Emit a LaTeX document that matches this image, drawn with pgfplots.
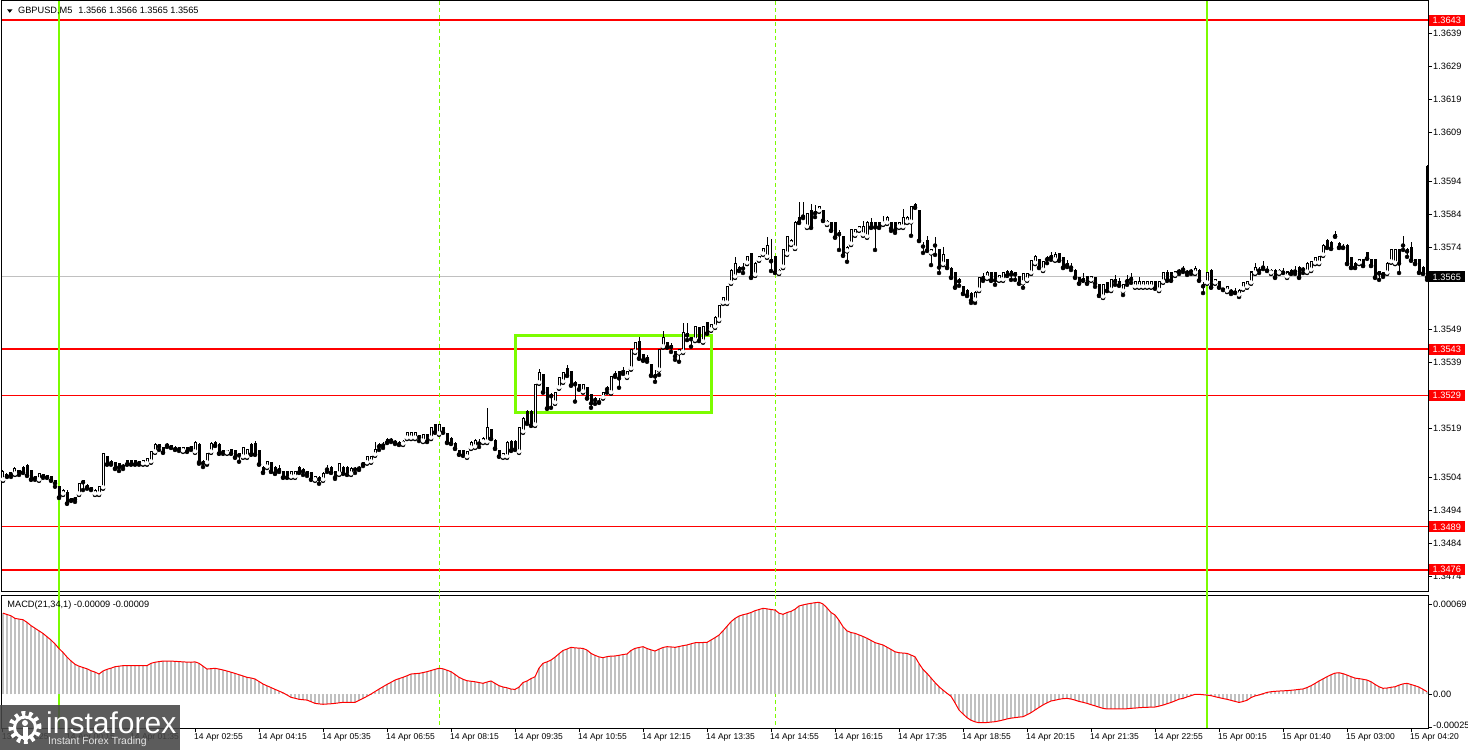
\documentclass[border=0pt]{standalone}
\usepackage{fontspec}
\setmainfont{Liberation Sans}
\newfontfamily\dejavu{DejaVu Sans}
\usepackage{pgfplots}
\usepackage{pgfplotstable}
\pgfplotsset{compat=1.18}
\definecolor{lgreen}{RGB}{124,252,0}
\definecolor{hgray}{RGB}{192,192,192}
\definecolor{logogray}{RGB}{70,70,70}

\pgfplotstableread{
O H L C
1.35033 1.35063 1.35030 1.35057
1.35045 1.35054 1.35042 1.35048
1.35054 1.35057 1.35042 1.35051
1.35051 1.35072 1.35048 1.35069
1.35060 1.35063 1.35048 1.35057
1.35072 1.35075 1.35054 1.35057
1.35078 1.35082 1.35045 1.35048
1.35060 1.35063 1.35033 1.35036
1.35042 1.35045 1.35033 1.35039
1.35033 1.35054 1.35030 1.35051
1.35048 1.35051 1.35039 1.35045
1.35045 1.35048 1.35039 1.35042
1.35042 1.35045 1.35030 1.35033
1.35030 1.35033 1.35012 1.35024
1.35012 1.35015 1.34978 1.34981
1.34990 1.35006 1.34987 1.35002
1.34996 1.35002 1.34960 1.34963
1.34975 1.34978 1.34969 1.34972
1.34978 1.34981 1.34966 1.34975
1.34990 1.35024 1.34987 1.35021
1.35030 1.35033 1.35002 1.35027
1.35015 1.35021 1.35006 1.35012
1.35009 1.35012 1.35002 1.35006
1.34990 1.35006 1.34987 1.35002
1.34990 1.35015 1.34987 1.35012
1.35009 1.35115 1.35006 1.35112
1.35103 1.35106 1.35079 1.35082
1.35088 1.35094 1.35079 1.35085
1.35085 1.35088 1.35066 1.35069
1.35082 1.35085 1.35060 1.35072
1.35078 1.35082 1.35066 1.35075
1.35091 1.35094 1.35079 1.35082
1.35091 1.35094 1.35079 1.35082
1.35091 1.35094 1.35079 1.35082
1.35088 1.35091 1.35079 1.35085
1.35082 1.35094 1.35079 1.35091
1.35082 1.35100 1.35079 1.35097
1.35088 1.35121 1.35085 1.35118
1.35118 1.35145 1.35115 1.35142
1.35139 1.35142 1.35124 1.35136
1.35130 1.35133 1.35115 1.35118
1.35142 1.35145 1.35133 1.35139
1.35136 1.35139 1.35130 1.35133
1.35130 1.35136 1.35124 1.35127
1.35130 1.35133 1.35121 1.35127
1.35121 1.35133 1.35118 1.35130
1.35130 1.35133 1.35118 1.35121
1.35133 1.35136 1.35124 1.35130
1.35118 1.35151 1.35115 1.35148
1.35142 1.35145 1.35082 1.35088
1.35088 1.35094 1.35072 1.35085
1.35085 1.35115 1.35079 1.35112
1.35118 1.35148 1.35115 1.35145
1.35148 1.35151 1.35136 1.35139
1.35142 1.35145 1.35112 1.35115
1.35121 1.35124 1.35112 1.35118
1.35115 1.35124 1.35112 1.35121
1.35124 1.35127 1.35112 1.35115
1.35121 1.35124 1.35100 1.35103
1.35112 1.35115 1.35088 1.35109
1.35103 1.35133 1.35100 1.35130
1.35103 1.35127 1.35100 1.35124
1.35142 1.35145 1.35109 1.35112
1.35145 1.35151 1.35109 1.35112
1.35121 1.35124 1.35079 1.35082
1.35072 1.35075 1.35054 1.35057
1.35072 1.35091 1.35069 1.35088
1.35085 1.35088 1.35057 1.35060
1.35072 1.35075 1.35051 1.35054
1.35066 1.35078 1.35057 1.35063
1.35057 1.35060 1.35039 1.35042
1.35057 1.35060 1.35039 1.35042
1.35042 1.35060 1.35039 1.35057
1.35042 1.35060 1.35039 1.35057
1.35072 1.35075 1.35054 1.35057
1.35063 1.35069 1.35048 1.35060
1.35057 1.35060 1.35045 1.35054
1.35054 1.35057 1.35033 1.35036
1.35033 1.35045 1.35030 1.35042
1.35039 1.35045 1.35021 1.35036
1.35033 1.35057 1.35030 1.35051
1.35066 1.35078 1.35057 1.35069
1.35072 1.35075 1.35054 1.35057
1.35057 1.35060 1.35036 1.35042
1.35051 1.35085 1.35048 1.35082
1.35072 1.35075 1.35051 1.35054
1.35072 1.35075 1.35048 1.35051
1.35051 1.35072 1.35048 1.35069
1.35069 1.35072 1.35054 1.35066
1.35072 1.35075 1.35063 1.35069
1.35085 1.35088 1.35075 1.35082
1.35085 1.35106 1.35082 1.35103
1.35088 1.35106 1.35085 1.35103
1.35109 1.35148 1.35106 1.35124
1.35139 1.35145 1.35124 1.35136
1.35142 1.35148 1.35130 1.35139
1.35157 1.35160 1.35145 1.35148
1.35157 1.35160 1.35148 1.35154
1.35151 1.35154 1.35142 1.35148
1.35148 1.35151 1.35139 1.35142
1.35142 1.35154 1.35139 1.35151
1.35160 1.35179 1.35157 1.35176
1.35160 1.35179 1.35157 1.35176
1.35160 1.35179 1.35157 1.35176
1.35167 1.35170 1.35151 1.35164
1.35151 1.35173 1.35148 1.35170
1.35170 1.35173 1.35148 1.35151
1.35160 1.35194 1.35157 1.35191
1.35200 1.35203 1.35176 1.35179
1.35173 1.35203 1.35170 1.35200
1.35191 1.35194 1.35176 1.35179
1.35173 1.35176 1.35145 1.35148
1.35160 1.35164 1.35142 1.35145
1.35145 1.35148 1.35127 1.35130
1.35121 1.35124 1.35109 1.35112
1.35121 1.35124 1.35106 1.35109
1.35103 1.35121 1.35100 1.35118
1.35130 1.35151 1.35127 1.35148
1.35133 1.35157 1.35130 1.35154
1.35148 1.35157 1.35133 1.35145
1.35148 1.35164 1.35145 1.35160
1.35148 1.35252 1.35145 1.35191
1.35185 1.35188 1.35157 1.35160
1.35154 1.35157 1.35127 1.35130
1.35121 1.35124 1.35103 1.35106
1.35103 1.35115 1.35100 1.35112
1.35103 1.35151 1.35100 1.35148
1.35151 1.35154 1.35121 1.35124
1.35151 1.35154 1.35124 1.35127
1.35118 1.35194 1.35115 1.35191
1.35179 1.35224 1.35176 1.35221
1.35240 1.35246 1.35203 1.35209
1.35240 1.35246 1.35197 1.35200
1.35200 1.35325 1.35197 1.35322
1.35328 1.35371 1.35325 1.35358
1.35352 1.35355 1.35298 1.35301
1.35313 1.35316 1.35249 1.35252
1.35292 1.35298 1.35252 1.35289
1.35267 1.35301 1.35264 1.35298
1.35313 1.35346 1.35310 1.35343
1.35331 1.35362 1.35328 1.35358
1.35371 1.35383 1.35349 1.35352
1.35362 1.35365 1.35319 1.35322
1.35328 1.35334 1.35271 1.35325
1.35322 1.35325 1.35307 1.35310
1.35301 1.35325 1.35298 1.35322
1.35313 1.35316 1.35280 1.35283
1.35292 1.35295 1.35252 1.35267
1.35280 1.35286 1.35264 1.35277
1.35271 1.35283 1.35267 1.35270
1.35283 1.35301 1.35280 1.35298
1.35310 1.35319 1.35298 1.35313
1.35298 1.35349 1.35295 1.35346
1.35352 1.35365 1.35346 1.35355
1.35362 1.35365 1.35313 1.35343
1.35362 1.35377 1.35355 1.35365
1.35346 1.35365 1.35343 1.35362
1.35371 1.35431 1.35368 1.35428
1.35422 1.35453 1.35419 1.35450
1.35453 1.35468 1.35401 1.35404
1.35413 1.35416 1.35395 1.35398
1.35404 1.35413 1.35392 1.35401
1.35383 1.35386 1.35349 1.35352
1.35352 1.35367 1.35331 1.35349
1.35367 1.35431 1.35352 1.35428
1.35438 1.35486 1.35435 1.35465
1.35450 1.35453 1.35435 1.35438
1.35441 1.35450 1.35422 1.35438
1.35422 1.35425 1.35398 1.35410
1.35419 1.35431 1.35392 1.35428
1.35422 1.35510 1.35419 1.35480
1.35474 1.35510 1.35458 1.35477
1.35465 1.35468 1.35438 1.35462
1.35458 1.35501 1.35455 1.35498
1.35495 1.35498 1.35455 1.35458
1.35453 1.35501 1.35450 1.35498
1.35510 1.35513 1.35477 1.35480
1.35489 1.35507 1.35486 1.35504
1.35498 1.35531 1.35495 1.35528
1.35519 1.35565 1.35516 1.35562
1.35571 1.35589 1.35568 1.35586
1.35571 1.35623 1.35568 1.35620
1.35632 1.35674 1.35629 1.35671
1.35650 1.35711 1.35647 1.35692
1.35680 1.35683 1.35668 1.35671
1.35677 1.35692 1.35662 1.35680
1.35692 1.35714 1.35689 1.35711
1.35720 1.35723 1.35647 1.35650
1.35656 1.35695 1.35653 1.35692
1.35702 1.35714 1.35699 1.35711
1.35720 1.35738 1.35717 1.35735
1.35711 1.35771 1.35708 1.35747
1.35702 1.35765 1.35668 1.35699
1.35711 1.35714 1.35662 1.35665
1.35662 1.35674 1.35659 1.35671
1.35680 1.35735 1.35677 1.35732
1.35720 1.35775 1.35717 1.35772
1.35750 1.35765 1.35747 1.35762
1.35738 1.35820 1.35735 1.35817
1.35832 1.35878 1.35814 1.35817
1.35835 1.35878 1.35829 1.35838
1.35802 1.35845 1.35799 1.35842
1.35851 1.35872 1.35799 1.35802
1.35845 1.35869 1.35832 1.35848
1.35851 1.35866 1.35848 1.35863
1.35851 1.35854 1.35820 1.35823
1.35811 1.35823 1.35808 1.35820
1.35814 1.35817 1.35790 1.35793
1.35814 1.35817 1.35769 1.35772
1.35784 1.35793 1.35732 1.35781
1.35772 1.35775 1.35714 1.35717
1.35729 1.35744 1.35696 1.35741
1.35750 1.35796 1.35747 1.35793
1.35778 1.35796 1.35775 1.35793
1.35793 1.35805 1.35790 1.35802
1.35778 1.35820 1.35775 1.35802
1.35772 1.35820 1.35769 1.35817
1.35814 1.35829 1.35799 1.35802
1.35814 1.35817 1.35732 1.35802
1.35814 1.35817 1.35799 1.35802
1.35811 1.35835 1.35808 1.35817
1.35814 1.35835 1.35811 1.35832
1.35814 1.35817 1.35790 1.35799
1.35814 1.35817 1.35784 1.35793
1.35802 1.35817 1.35799 1.35814
1.35802 1.35856 1.35799 1.35832
1.35817 1.35835 1.35814 1.35832
1.35817 1.35866 1.35775 1.35863
1.35869 1.35875 1.35860 1.35863
1.35851 1.35854 1.35759 1.35762
1.35747 1.35756 1.35723 1.35744
1.35762 1.35775 1.35729 1.35732
1.35723 1.35735 1.35686 1.35732
1.35750 1.35772 1.35717 1.35747
1.35732 1.35735 1.35662 1.35680
1.35689 1.35741 1.35686 1.35717
1.35702 1.35705 1.35677 1.35680
1.35677 1.35680 1.35647 1.35650
1.35662 1.35665 1.35617 1.35620
1.35641 1.35647 1.35623 1.35638
1.35620 1.35623 1.35598 1.35601
1.35610 1.35613 1.35592 1.35595
1.35601 1.35604 1.35571 1.35580
1.35580 1.35607 1.35571 1.35604
1.35610 1.35650 1.35607 1.35647
1.35647 1.35662 1.35638 1.35650
1.35647 1.35668 1.35644 1.35662
1.35662 1.35665 1.35638 1.35641
1.35662 1.35665 1.35626 1.35641
1.35641 1.35656 1.35638 1.35653
1.35641 1.35665 1.35638 1.35662
1.35668 1.35671 1.35653 1.35656
1.35668 1.35671 1.35641 1.35659
1.35662 1.35665 1.35641 1.35659
1.35650 1.35653 1.35629 1.35632
1.35632 1.35662 1.35617 1.35659
1.35641 1.35662 1.35638 1.35659
1.35662 1.35702 1.35659 1.35699
1.35692 1.35717 1.35689 1.35711
1.35702 1.35705 1.35677 1.35680
1.35671 1.35699 1.35668 1.35696
1.35705 1.35714 1.35692 1.35708
1.35711 1.35726 1.35702 1.35714
1.35702 1.35726 1.35699 1.35717
1.35720 1.35723 1.35699 1.35702
1.35708 1.35711 1.35677 1.35680
1.35690 1.35702 1.35680 1.35687
1.35683 1.35692 1.35671 1.35680
1.35671 1.35674 1.35647 1.35650
1.35647 1.35650 1.35629 1.35632
1.35644 1.35662 1.35638 1.35641
1.35650 1.35653 1.35629 1.35632
1.35641 1.35653 1.35638 1.35650
1.35647 1.35650 1.35620 1.35632
1.35626 1.35629 1.35592 1.35595
1.35589 1.35629 1.35586 1.35626
1.35632 1.35635 1.35607 1.35610
1.35610 1.35644 1.35607 1.35641
1.35641 1.35656 1.35626 1.35638
1.35635 1.35647 1.35623 1.35626
1.35607 1.35629 1.35595 1.35626
1.35638 1.35656 1.35626 1.35641
1.35647 1.35662 1.35632 1.35644
1.35620 1.35638 1.35617 1.35635
1.35620 1.35650 1.35617 1.35635
1.35620 1.35638 1.35617 1.35635
1.35620 1.35638 1.35617 1.35635
1.35620 1.35638 1.35617 1.35635
1.35635 1.35638 1.35614 1.35617
1.35610 1.35638 1.35607 1.35635
1.35635 1.35665 1.35632 1.35662
1.35662 1.35671 1.35638 1.35641
1.35662 1.35665 1.35638 1.35641
1.35656 1.35668 1.35653 1.35665
1.35671 1.35674 1.35659 1.35668
1.35677 1.35683 1.35665 1.35674
1.35665 1.35671 1.35656 1.35668
1.35671 1.35674 1.35659 1.35668
1.35662 1.35683 1.35659 1.35677
1.35671 1.35674 1.35638 1.35641
1.35623 1.35635 1.35601 1.35626
1.35632 1.35665 1.35629 1.35662
1.35671 1.35674 1.35617 1.35620
1.35632 1.35644 1.35629 1.35641
1.35635 1.35638 1.35617 1.35620
1.35614 1.35617 1.35610 1.35613
1.35607 1.35623 1.35604 1.35620
1.35610 1.35613 1.35598 1.35607
1.35605 1.35616 1.35601 1.35604
1.35595 1.35613 1.35589 1.35610
1.35614 1.35635 1.35611 1.35632
1.35620 1.35638 1.35617 1.35635
1.35632 1.35668 1.35629 1.35665
1.35662 1.35692 1.35659 1.35680
1.35671 1.35680 1.35662 1.35674
1.35680 1.35699 1.35674 1.35683
1.35672 1.35683 1.35668 1.35671
1.35662 1.35674 1.35659 1.35671
1.35671 1.35674 1.35647 1.35650
1.35662 1.35674 1.35659 1.35671
1.35666 1.35677 1.35662 1.35665
1.35650 1.35668 1.35647 1.35665
1.35671 1.35674 1.35659 1.35662
1.35668 1.35683 1.35659 1.35671
1.35680 1.35683 1.35647 1.35650
1.35677 1.35680 1.35662 1.35674
1.35665 1.35695 1.35662 1.35692
1.35671 1.35699 1.35668 1.35696
1.35692 1.35711 1.35689 1.35708
1.35692 1.35714 1.35689 1.35711
1.35717 1.35750 1.35714 1.35747
1.35762 1.35765 1.35738 1.35741
1.35756 1.35759 1.35735 1.35738
1.35775 1.35790 1.35772 1.35778
1.35753 1.35756 1.35738 1.35741
1.35742 1.35750 1.35738 1.35741
1.35747 1.35750 1.35689 1.35692
1.35708 1.35711 1.35677 1.35680
1.35692 1.35695 1.35677 1.35680
1.35692 1.35705 1.35689 1.35702
1.35702 1.35705 1.35683 1.35686
1.35723 1.35726 1.35705 1.35708
1.35702 1.35705 1.35683 1.35686
1.35702 1.35705 1.35647 1.35650
1.35665 1.35668 1.35641 1.35662
1.35662 1.35665 1.35650 1.35659
1.35662 1.35695 1.35659 1.35692
1.35696 1.35735 1.35693 1.35732
1.35692 1.35735 1.35689 1.35732
1.35732 1.35735 1.35662 1.35692
1.35750 1.35774 1.35732 1.35747
1.35732 1.35738 1.35711 1.35729
1.35741 1.35756 1.35699 1.35702
1.35702 1.35705 1.35689 1.35692
1.35702 1.35705 1.35662 1.35665
1.35680 1.35683 1.35659 1.35662
1.35987 1.35990 1.35641 1.35650
}\ohlc

\pgfplotstableread[row sep=\\]{
m\\
62\\61\\60\\58\\57.5\\57\\55\\52.5\\50.5\\48.5\\
46.5\\44\\41.5\\38.5\\35\\32\\28.5\\25.5\\23\\21.5\\
20.5\\19.5\\18\\17\\15.5\\17.8\\19.1\\20\\21.1\\21.5\\
21.9\\21.9\\21.9\\21.9\\21.9\\21.9\\21.9\\23.7\\24.5\\25\\
25.4\\25.4\\25.4\\25.2\\25\\24.8\\24.6\\24.5\\24.8\\23.7\\
21.5\\19.3\\19.6\\19.9\\19.3\\18.6\\17.8\\16.9\\16\\15\\
14\\13\\12.5\\11.7\\9.8\\7.9\\6.5\\5.2\\3.8\\2.5\\
1.2\\-0.5\\-2.3\\-3\\-3.8\\-4.1\\-4.4\\-5.6\\-6.9\\-7.3\\
-7.6\\-7.4\\-7.2\\-6.9\\-6.5\\-6.1\\-6.1\\-6.1\\-6.1\\-4.6\\
-3.1\\-1.5\\0.2\\2.1\\4\\5.8\\7.6\\9.2\\10.9\\12\\
13\\14.2\\15.5\\15.8\\16\\16.6\\17.3\\18.2\\19.1\\19.9\\
19.5\\18.4\\17.3\\15.2\\13\\11.5\\10.4\\10\\9.6\\9\\
8.4\\9.4\\10.2\\8.4\\6.6\\5.6\\5\\4\\3.8\\5.5\\
9\\10.2\\12\\13.4\\20\\23.7\\24.8\\26.2\\28.4\\31\\
33.5\\34.6\\35.9\\35.5\\35.3\\35.1\\33.8\\31.3\\29.8\\28.6\\
28\\28.8\\29.2\\29.3\\29.8\\30.4\\30.8\\33.5\\35.1\\35.8\\
36.4\\35\\34\\33.1\\34.5\\35.8\\36.4\\36.2\\35.9\\36.5\\
37.2\\37.7\\38.6\\39.4\\39.5\\39.6\\39.7\\41.5\\43.3\\45.3\\
48.5\\52\\55.5\\58\\59.8\\60.8\\61.5\\62.5\\63.9\\64.8\\
65.7\\65.3\\64.8\\64.4\\62\\61.1\\62.5\\63.4\\65\\67.5\\
68.3\\69\\69.5\\70\\70.3\\69\\66\\62.5\\60.6\\56.5\\
51.6\\48.5\\47.2\\46.6\\45.4\\44.2\\42.8\\41.2\\39.5\\38.6\\
37.7\\36\\34.3\\32.5\\31.8\\31.5\\31.3\\30\\28.7\\23.5\\
19\\16\\12.5\\9\\5.8\\3.2\\0.8\\-1.5\\-6.5\\-12\\
-15\\-17.8\\-19.8\\-21\\-21.7\\-21.7\\-21.5\\-21.2\\-20.9\\-20.3\\
-19.6\\-18.8\\-18.2\\-17.8\\-17.4\\-17.1\\-15.6\\-14\\-12\\-10\\
-8.1\\-6.5\\-5.1\\-4.5\\-3.8\\-3.3\\-3.1\\-3.6\\-4.4\\-5.4\\
-6.1\\-6.9\\-7.9\\-8.8\\-9.8\\-10.7\\-11.2\\-11.2\\-11.2\\-11.2\\
-11.2\\-11\\-10.7\\-10.5\\-10.2\\-10\\-9.9\\-9.8\\-9.7\\-9\\
-8.2\\-7.2\\-6.2\\-5\\-3.7\\-3.1\\-2\\-1\\0\\0\\
-0.3\\-0.6\\-1\\-1.8\\-2.5\\-3.2\\-3.8\\-4.6\\-5.4\\-6.2\\
-5.5\\-4.5\\-2.5\\-1.2\\-0.5\\0.5\\1.5\\2\\2.3\\2.5\\
2.7\\2.8\\3.1\\3.4\\3.8\\4.1\\5.2\\6.6\\8.3\\10.2\\
11.8\\13.5\\15\\16.2\\16.5\\15.8\\14.7\\13.5\\12.4\\12\\
11.5\\10.9\\9.6\\7.6\\5.8\\4.6\\4.8\\5.4\\5.8\\7\\
8\\8.4\\7.5\\6.6\\5.5\\3.8\\2\\
}\macd

\pgfplotsset{
  mtaxis/.style={
    scale only axis, width=1426pt,
    xmin=-0.25, xmax=356.25,
    clip=false,
    axis line style={black, line width=1pt},
    tick align=outside, major tick length=4pt,
    major tick style={black, line width=1pt},
    ytick pos=right, yticklabel pos=right,
    yticklabel style={font=\fontsize{9.2}{10}\selectfont, anchor=west, inner sep=0pt, xshift=1pt},
  },
  wickstyle/.style={only marks, mark=none, error bars/.cd, y dir=plus, y explicit, error mark=none},
}

\begin{document}
\begin{tikzpicture}[x=1pt,y=1pt]
\fill[white] (0,0) rectangle (1468,750);
\useasboundingbox (0,0) rectangle (1468,750);

% ---------- main price panel ----------
\begin{axis}[mtaxis,
  at={(2pt,158pt)}, anchor=south west, height=591pt,
  ymin=1.34692, ymax=1.36489,
  xtick=\empty,
  ytick={1.3474,1.3484,1.3494,1.3504,1.3519,1.3539,1.3549,1.3574,1.3584,1.3594,1.3609,1.3619,1.3629,1.3639},
  yticklabels={1.3474,1.3484,1.3494,1.3504,1.3519,1.3539,1.3549,1.3574,1.3584,1.3594,1.3609,1.3619,1.3629,1.3639},
]
\draw[hgray, line width=1pt] (axis cs:-0.25,1.3565) -- (axis cs:356.25,1.3565);
\draw[red, line width=2pt] (axis cs:-0.25,1.3643) -- (axis cs:356.25,1.3643);
\draw[red, line width=2pt] (axis cs:-0.25,1.3543) -- (axis cs:356.25,1.3543);
\draw[red, line width=1pt] (axis cs:-0.25,1.3529) -- (axis cs:356.25,1.3529);
\draw[red, line width=1pt] (axis cs:-0.25,1.3489) -- (axis cs:356.25,1.3489);
\draw[red, line width=2pt] (axis cs:-0.25,1.3476) -- (axis cs:356.25,1.3476);
\draw[lgreen, line width=1pt, dash pattern=on 4pt off 3pt] (axis cs:109,1.36489) -- ([yshift=-4pt]axis cs:109,1.34692);
\draw[lgreen, line width=1pt, dash pattern=on 4pt off 3pt] (axis cs:193,1.36489) -- ([yshift=-4pt]axis cs:193,1.34692);
\draw[lgreen, line width=2pt] (axis cs:14,1.36489) -- ([yshift=-4pt]axis cs:14,1.34692);
\draw[lgreen, line width=2pt] (axis cs:301,1.36489) -- ([yshift=-4pt]axis cs:301,1.34692);
\draw[lgreen, line width=3pt] (axis cs:128,1.35471) rectangle (axis cs:177.1,1.35237);

% wicks
\addplot[black, wickstyle, error bar style={black, line width=1pt}]
  table[x expr=\coordindex, y=L, y error expr=\thisrow{H}-\thisrow{L}] {\ohlc};
% bodies
\addplot[black, wickstyle, error bar style={black, line width=3pt}]
  table[x expr=\coordindex, y expr={min(\thisrow{O},\thisrow{C})-0.0000152}, y error expr={abs(\thisrow{C}-\thisrow{O})+0.0000304}] {\ohlc};
% hollow interior of bullish bodies
\addplot[white, wickstyle, error bar style={white, line width=1pt}]
  table[x expr=\coordindex, y expr={(\thisrow{C}-\thisrow{O}>0.00004) ? (\thisrow{O}+0.0000152) : nan}, y error expr={\thisrow{C}-\thisrow{O}-0.0000304}] {\ohlc};

% price labels
\node[fill=red, text=white, anchor=west, inner xsep=4pt, inner ysep=0pt, minimum height=11pt, font=\fontsize{9.2}{10}\selectfont] at ([xshift=0.5pt]axis cs:356.25,1.3643) {1.3643};
\node[fill=red, text=white, anchor=west, inner xsep=4pt, inner ysep=0pt, minimum height=11pt, font=\fontsize{9.2}{10}\selectfont] at ([xshift=0.5pt]axis cs:356.25,1.3543) {1.3543};
\node[fill=red, text=white, anchor=west, inner xsep=4pt, inner ysep=0pt, minimum height=11pt, font=\fontsize{9.2}{10}\selectfont] at ([xshift=0.5pt]axis cs:356.25,1.3529) {1.3529};
\node[fill=red, text=white, anchor=west, inner xsep=4pt, inner ysep=0pt, minimum height=11pt, font=\fontsize{9.2}{10}\selectfont] at ([xshift=0.5pt]axis cs:356.25,1.3489) {1.3489};
\node[fill=red, text=white, anchor=west, inner xsep=4pt, inner ysep=0pt, minimum height=11pt, font=\fontsize{9.2}{10}\selectfont] at ([xshift=0.5pt]axis cs:356.25,1.3476) {1.3476};
\node[fill=black, text=white, anchor=west, inner xsep=4pt, inner ysep=0pt, minimum height=11pt, font=\fontsize{9.2}{10}\selectfont] at ([xshift=0.5pt]axis cs:356.25,1.3565) {1.3565};
\end{axis}

% ---------- MACD panel ----------
\begin{axis}[mtaxis,
  at={(2pt,21.5pt)}, anchor=south west, height=133pt,
  ymin=-26.1, ymax=75.5,
  xtick={0,16,...,352},
  xticklabels={13 Apr 2025,14 Apr 00:15,14 Apr 01:35,14 Apr 02:55,14 Apr 04:15,14 Apr 05:35,14 Apr 06:55,14 Apr 08:15,14 Apr 09:35,14 Apr 10:55,14 Apr 12:15,14 Apr 13:35,14 Apr 14:55,14 Apr 16:15,14 Apr 17:35,14 Apr 18:55,14 Apr 20:15,14 Apr 21:35,14 Apr 22:55,15 Apr 00:15,15 Apr 01:40,15 Apr 03:00,15 Apr 04:20},
  xtick pos=bottom,
  xticklabel style={font=\fontsize{8.5}{9}\selectfont, anchor=north west, inner sep=0pt, xshift=-1pt, yshift=-0.5pt},
  ytick={-25,0,69}, yticklabels={\raisebox{4pt}{-0.00025},0.00,0.00069},
]
\draw[lgreen, line width=1pt, dash pattern=on 4pt off 3pt] (axis cs:109,75.5) -- (axis cs:109,-26.1);
\draw[lgreen, line width=1pt, dash pattern=on 4pt off 3pt] (axis cs:193,75.5) -- (axis cs:193,-26.1);
\draw[lgreen, line width=2pt] (axis cs:14,75.5) -- (axis cs:14,-26.1);
\draw[lgreen, line width=2pt] (axis cs:301,75.5) -- (axis cs:301,-26.1);
\addplot[ycomb, hgray, line width=2pt] table[x expr=\coordindex, y=m] {\macd};
\addplot[red, line width=1pt, mark=none] table[x expr=\coordindex, y=m] {\macd};
\end{axis}

% ---------- texts ----------
\fill[black] (7,740.7) -- (12.5,740.7) -- (9.75,737.2) -- cycle;
\node[anchor=base west, inner sep=0pt, font=\fontsize{9.2}{10}\selectfont] at (18,736) {GBPUSD,M5\hspace{6pt}1.3566 1.3566 1.3565 1.3565};
\node[anchor=base west, inner sep=0pt, font=\fontsize{9.2}{10}\selectfont] at (7.3,142) {MACD(21,34,1) -0.00009 -0.00009};

% ---------- logo ----------
\fill[logogray, opacity=0.88] (0,0) rectangle (180,45);
\draw[white, line width=5pt, dash pattern=on 3.6pt off 3.6pt] (25,22.5) circle (14);
\draw[white, line width=3pt] (25,22.5) circle (10.5);
\fill[white] (25,27) circle (3);
\fill[white] (22.5,10) rectangle (27.5,23);
\node[anchor=base west, text=white, inner sep=0pt, font=\fontsize{30}{30}\selectfont] at (46,16.5) {instaforex};
\node[anchor=base west, text=white!80!gray, inner sep=0pt, font=\fontsize{10.4}{11}\selectfont] at (48,5.5) {Instant Forex Trading};
\end{tikzpicture}
\end{document}
